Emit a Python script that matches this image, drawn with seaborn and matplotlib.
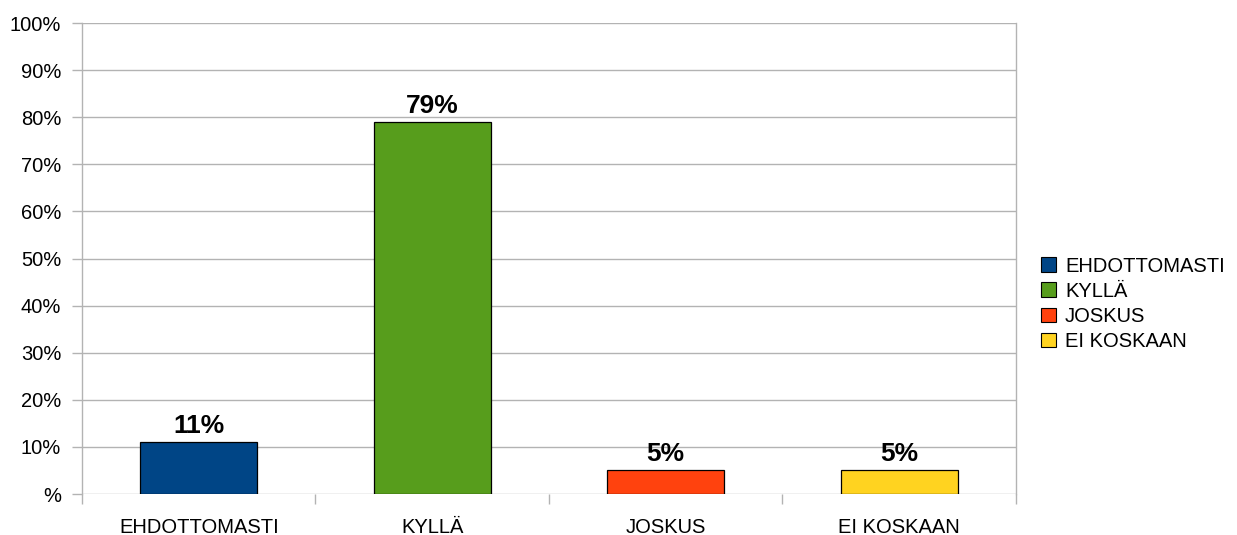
import matplotlib
matplotlib.use("Agg")
import matplotlib.pyplot as plt
from matplotlib.patches import Patch
from matplotlib.ticker import FixedLocator
import seaborn as sns
import pandas as pd

categories = ["EHDOTTOMASTI", "KYLLÄ", "JOSKUS", "EI KOSKAAN"]
values = [11, 79, 5, 5]
colors = ["#004586", "#579d1c", "#ff420e", "#ffd320"]
ytick_values = [0, 10, 20, 30, 40, 50, 60, 70, 80, 90, 100]
ytick_labels = ["%", "10%", "20%", "30%", "40%", "50%", "60%", "70%", "80%", "90%", "100%"]

sns.set_theme(style="white")
plt.rcParams["font.family"] = ["Liberation Sans", "DejaVu Sans"]
plt.rcParams["text.color"] = "black"

df = pd.DataFrame({"category": categories, "value": values})

fig = plt.figure(figsize=(12.37, 5.35), dpi=100)
ax = fig.add_axes([0.0663, 0.0766, 0.8213 - 0.0663, 0.957 - 0.0766])

sns.barplot(data=df, x="category", y="value", hue="category",
            palette=colors, order=categories, hue_order=categories,
            dodge=False, width=0.5, saturation=1, edgecolor="black", linewidth=0.9,
            legend=False, ax=ax, zorder=3)

grid_color = "#b3b3b3"
ax.set_ylim(0, 100)
ax.set_xlim(-0.5, len(categories) - 0.5)
ax.set_yticks(ytick_values)
ax.set_yticklabels(ytick_labels)
ax.yaxis.grid(True, color=grid_color, linewidth=1.0, zorder=0)
ax.set_axisbelow(True)
ax.set_xlabel("")
ax.set_ylabel("")

# category separators as minor ticks along the bottom
ax.xaxis.set_minor_locator(FixedLocator([i - 0.5 for i in range(len(categories) + 1)]))
ax.tick_params(axis="x", which="major", length=0, pad=17, labelsize=14.5, labelcolor="black")
ax.tick_params(axis="x", which="minor", length=7.5, width=1.0, color=grid_color, bottom=True)
ax.tick_params(axis="y", which="major", length=7.5, width=1.0, color=grid_color,
               labelsize=14.5, labelcolor="black", pad=7.5, left=True)

for side in ["top", "bottom"]:
    ax.spines[side].set_visible(False)
for side in ["left", "right"]:
    ax.spines[side].set_color(grid_color)
    ax.spines[side].set_linewidth(1.0)

for container in ax.containers:
    labels = [f"{int(round(b.get_height()))}%" for b in container]
    ax.bar_label(container, labels=labels, padding=3, fontsize=19,
                 fontweight="bold", color="black")

handles = [Patch(facecolor=c, edgecolor="black", linewidth=0.8) for c in colors]
fig.legend(handles, categories, loc="center left", bbox_to_anchor=(0.835, 0.432),
           frameon=False, fontsize=14.5, handlelength=0.75, handleheight=0.75,
           handletextpad=0.45, labelspacing=0.3, borderaxespad=0, labelcolor="black")

fig.savefig("out.png", dpi=100)
